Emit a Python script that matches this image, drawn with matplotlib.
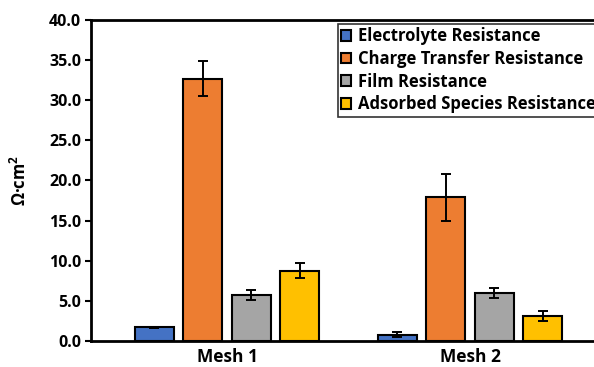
import matplotlib.pyplot as plt
import numpy as np

groups = ['Mesh 1', 'Mesh 2']
series = ['Electrolyte Resistance', 'Charge Transfer Resistance',
          'Film Resistance', 'Adsorbed Species Resistance']
electrolyte = [1.7, 0.8]
electrolyte_err = [0.1, 0.3]
charge_transfer = [32.7, 17.9]
charge_transfer_err = [2.2, 2.9]
film = [5.7, 6.0]
film_err = [0.6, 0.6]
adsorbed = [8.75, 3.1]
adsorbed_err = [0.95, 0.6]

colors = ['#4472C4', '#ED7D31', '#A5A5A5', '#FFC000']
values = [electrolyte, charge_transfer, film, adsorbed]
errors = [electrolyte_err, charge_transfer_err, film_err, adsorbed_err]

plt.rcParams['font.family'] = ['Open Sans', 'DejaVu Sans']
plt.rcParams['font.weight'] = 'bold'

fig = plt.figure(figsize=(5.94, 3.67), dpi=100)
W, H = 594, 367
# axes runs past the right edge, like the cropped original
ax = fig.add_axes([91 / W, 1 - 341 / H, (606 - 91) / W, (341 - 20) / H])

x = np.arange(len(groups))
offsets = [-0.3, -0.1, 0.1, 0.3]
for vals, errs, c, off, name in zip(values, errors, colors, offsets, series):
    ax.bar(x + off, vals, width=0.16, color=c, edgecolor='black', linewidth=1.5,
           label=name, zorder=2)
    ax.errorbar(x + off, vals, yerr=errs, fmt='none', ecolor='black',
                elinewidth=1.4, capsize=3.5, capthick=1.4, zorder=3)

ax.set_xlim(-0.56, 1.56)
ax.set_ylim(0, 40)
ax.set_yticks(np.arange(0, 41, 5))
ax.set_yticklabels([f'{v:.1f}' for v in np.arange(0, 41, 5)], fontsize=11.5,
                   fontweight='bold')
ax.set_xticks(x)
ax.set_xticklabels(groups, fontsize=12.5, fontweight='bold')
ax.tick_params(axis='x', length=0, pad=5)
ax.tick_params(axis='y', length=4, width=1.5, direction='out', pad=3)
for s in ax.spines.values():
    s.set_linewidth(2)
ax.set_ylabel('Ω·cm$^\\mathregular{2}$', fontsize=12, fontweight='bold', labelpad=14)

leg = ax.legend(loc='upper left', bbox_to_anchor=(338 / W, 1 - 24 / H),
                bbox_transform=fig.transFigure, fontsize=12, frameon=True,
                fancybox=False, edgecolor='black', handlelength=0.6,
                handleheight=0.6, handletextpad=0.4, labelspacing=0.28,
                borderpad=0.2, borderaxespad=0)
leg.get_frame().set_linewidth(1.2)
for t in leg.get_texts():
    t.set_fontweight('bold')

fig.savefig('out.png', dpi=100)
